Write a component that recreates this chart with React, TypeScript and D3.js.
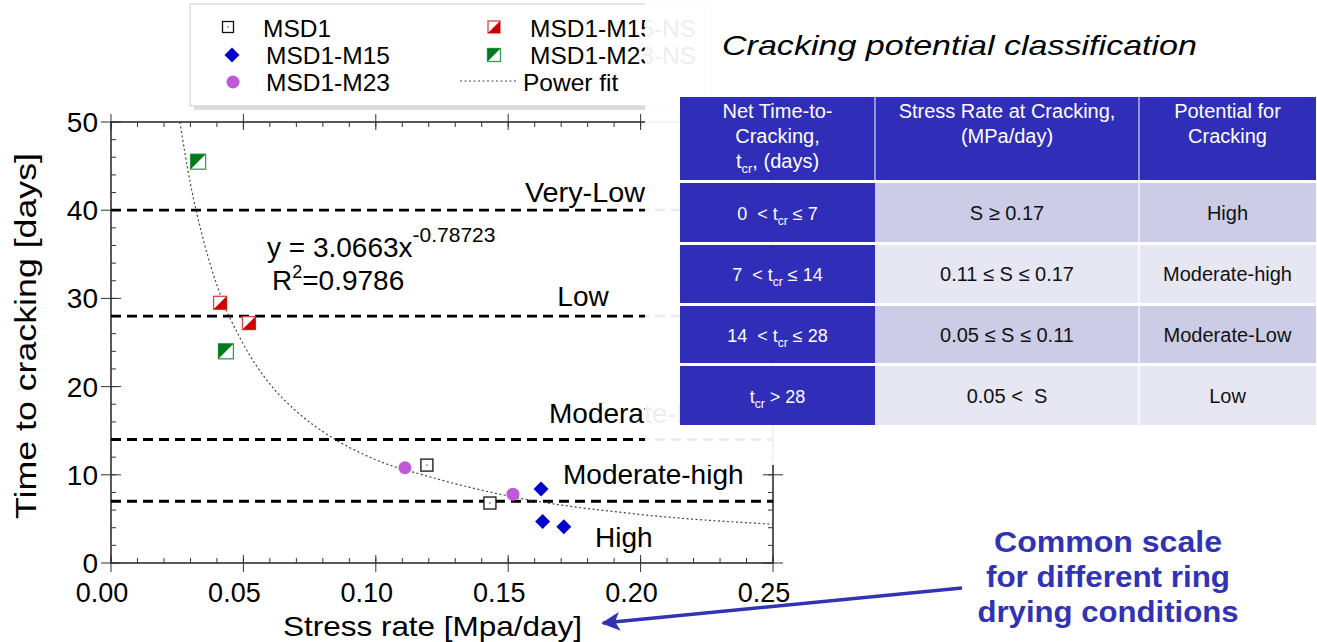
import React, { useEffect, useRef } from 'react';
import * as d3 from 'd3';

// Data: [stress rate, days]
const msd1 = [[0.1193, 11.1], [0.1431, 6.8]];
const msd1M15 = [[0.1624, 8.4], [0.1630, 4.7], [0.1710, 4.1]];
const msd1M23 = [[0.1110, 10.8], [0.1518, 7.8]];
const msd1M15NS = [[0.0412, 29.5], [0.0521, 27.2]];
const msd1M23NS = [[0.0329, 45.5], [0.0434, 24.0]];

// Power fit curve
const fitX = [0.026, 0.03, 0.035, 0.04, 0.05, 0.06, 0.07, 0.08, 0.10, 0.12, 0.15, 0.20, 0.25];
const fitY = [50, 43, 36.5, 31.5, 24.8, 20.3, 17.2, 14.9, 11.7, 9.8, 7.6, 5.5, 4.4];

const limits = [40, 28, 14, 7];
const xDomain = [0, 0.25];
const yDomain = [0, 50];

const headerCells = [
  ['Net Time-to-', 'Cracking,', 't{cr}, (days)'],
  ['Stress Rate at Cracking,', '(MPa/day)'],
  ['Potential for', 'Cracking'],
];
const timeRanges = ['0  < t{cr} ≤ 7', '7  < t{cr} ≤ 14', '14  < t{cr} ≤ 28', 't{cr} > 28'];
const stressRanges = ['S ≥ 0.17', '0.11 ≤ S ≤ 0.17', '0.05 ≤ S ≤ 0.11', '0.05 <  S'];
const potentials = ['High', 'Moderate-high', 'Moderate-Low', 'Low'];

const noteLines = ['Common scale', 'for different ring', 'drying conditions'];

const BLUE = '#302eb8';

// text with "cr" subscripts marked as {cr}
function addSubText(sel: any, str: string, subSize: number) {
  const parts = str.split('{cr}');
  parts.forEach((p, i) => {
    const t = sel.append('tspan').text(p);
    if (i > 0) t.attr('dy', -5);
    if (i < parts.length - 1) {
      sel.append('tspan').attr('font-size', subSize).attr('dy', 5).text('cr');
    }
  });
}

function App() {
  const ref = useRef<SVGSVGElement>(null);

  useEffect(() => {
    const svg = d3.select(ref.current);
    svg.selectAll('*').remove();

    const x = d3.scaleLinear().domain(xDomain).range([111, 773]);
    const y = d3.scaleLinear().domain(yDomain).range([563, 122]);
    const [x0, x1] = x.range();
    const [y0, y1] = y.range();

    const g = svg.append('g');

    // clip for the fit line
    svg.append('defs').append('clipPath').attr('id', 'plotClip')
      .append('rect').attr('x', x0).attr('y', y1).attr('width', x1 - x0).attr('height', y0 - y1);

    // Frame
    g.append('rect')
      .attr('x', x0).attr('y', y1)
      .attr('width', x1 - x0).attr('height', y0 - y1)
      .attr('fill', 'none').attr('stroke', '#000').attr('stroke-width', 1.3);

    // Ticks
    const xMinor = d3.range(0, 26).map(i => i / 100);
    const xMajor = x.ticks(5);
    const yMinor = d3.range(0, 51, 2);
    const yMajor = y.ticks(5);
    const tk = g.append('g').attr('stroke', '#333').attr('stroke-width', 1);
    xMinor.forEach(v => {
      tk.append('line').attr('x1', x(v)).attr('x2', x(v)).attr('y1', y0).attr('y2', y0 - 5);
      tk.append('line').attr('x1', x(v)).attr('x2', x(v)).attr('y1', y1).attr('y2', y1 + 5);
    });
    xMajor.forEach(v => {
      tk.append('line').attr('x1', x(v)).attr('x2', x(v)).attr('y1', y0 - 8).attr('y2', y0 + 9);
      tk.append('line').attr('x1', x(v)).attr('x2', x(v)).attr('y1', y1 - 8).attr('y2', y1 + 8);
    });
    yMinor.forEach(v => {
      tk.append('line').attr('x1', x0).attr('x2', x0 + 5).attr('y1', y(v)).attr('y2', y(v));
      tk.append('line').attr('x1', x1).attr('x2', x1 - 5).attr('y1', y(v)).attr('y2', y(v));
    });
    yMajor.forEach(v => {
      tk.append('line').attr('x1', x0 - 10).attr('x2', x0 + 10).attr('y1', y(v)).attr('y2', y(v));
      tk.append('line').attr('x1', x1 - 10).attr('x2', x1 + 10).attr('y1', y(v)).attr('y2', y(v));
    });

    // Tick labels
    g.append('g').selectAll('text').data(xMajor).enter().append('text')
      .attr('x', d => x(d) - 9).attr('y', 602)
      .attr('text-anchor', 'middle').attr('font-size', 27)
      .text(d => d3.format('.2f')(d));
    g.append('g').selectAll('text').data(yMajor).enter().append('text')
      .attr('x', 98).attr('y', d => y(d) + 10)
      .attr('text-anchor', 'end').attr('font-size', 28)
      .text(d => d);

    // Axis titles
    g.append('text').attr('x', 283).attr('y', 636)
      .attr('font-size', 28).attr('textLength', 299).attr('lengthAdjust', 'spacingAndGlyphs')
      .text('Stress rate [Mpa/day]');
    g.append('text').attr('transform', 'translate(36,336) rotate(-90)')
      .attr('text-anchor', 'middle').attr('font-size', 30)
      .attr('textLength', 366).attr('lengthAdjust', 'spacingAndGlyphs')
      .text('Time to cracking [days]');

    // Classification limits
    g.append('g').selectAll('line').data(limits).enter().append('line')
      .attr('x1', x0).attr('x2', x1)
      .attr('y1', d => y(d)).attr('y2', d => y(d))
      .attr('stroke', '#000').attr('stroke-width', 2.8).attr('stroke-dasharray', '10,6');

    const zone = (t: string, px: number, py: number, anchor: string, len?: number) => {
      const el = g.append('text').attr('x', px).attr('y', py).attr('font-size', 28)
        .attr('text-anchor', anchor).text(t);
      if (len) el.attr('textLength', len).attr('lengthAdjust', 'spacingAndGlyphs');
    };
    zone('Very-Low', 585, y(40) - 8, 'middle', 120);
    zone('Low', 583, y(28) - 10, 'middle');
    zone('Moderate-Low', 549, y(14) - 17, 'start');
    zone('Moderate-high', 563, y(7) - 17, 'start');
    zone('High', 595, y(7) + 46, 'start');

    // Fit equation
    const eq = g.append('text').attr('x', 267).attr('y', 257).attr('font-size', 28);
    eq.append('tspan').text('y = 3.0663x');
    eq.append('tspan').attr('dy', -15).attr('font-size', 21).text('-0.78723');
    const r2 = g.append('text').attr('x', 272).attr('y', 290).attr('font-size', 28);
    r2.append('tspan').text('R');
    r2.append('tspan').attr('dy', -12).attr('font-size', 18).text('2');
    r2.append('tspan').attr('dy', 12).text('=0.9786');

    // Power fit line
    const fitPts = fitX.map((v, i) => [v, fitY[i]]);
    const line = d3.line<number[]>().x(d => x(d[0])).y(d => y(d[1])).curve(d3.curveMonotoneX);
    g.append('path').datum(fitPts).attr('d', line)
      .attr('clip-path', 'url(#plotClip)')
      .attr('fill', 'none').attr('stroke', '#444').attr('stroke-width', 1.2)
      .attr('stroke-dasharray', '2,2.5');

    // Marker helpers
    const square = (p: any, cx: number, cy: number, s: number) => {
      p.append('rect').attr('x', cx - s / 2).attr('y', cy - s / 2).attr('width', s).attr('height', s)
        .attr('fill', '#fff').attr('stroke', '#111').attr('stroke-width', 1.3);
      p.append('rect').attr('x', cx - 0.6).attr('y', cy - 0.6).attr('width', 1.2).attr('height', 1.2).attr('fill', '#333');
    };
    const diamond = (p: any, cx: number, cy: number, r: number) => {
      p.append('path').attr('d', `M${cx},${cy - r}L${cx + r},${cy}L${cx},${cy + r}L${cx - r},${cy}Z`)
        .attr('fill', '#0000cc');
    };
    const dot = (p: any, cx: number, cy: number, r: number) => {
      p.append('circle').attr('cx', cx).attr('cy', cy).attr('r', r).attr('fill', '#c058d8');
    };
    const half = (p: any, cx: number, cy: number, s: number, fill: string, edge: string, lowerRight: boolean) => {
      const h = s / 2;
      p.append('rect').attr('x', cx - h).attr('y', cy - h).attr('width', s).attr('height', s)
        .attr('fill', '#fff').attr('stroke', edge).attr('stroke-width', 1.3);
      const tri = lowerRight
        ? `M${cx + h},${cy - h}L${cx + h},${cy + h}L${cx - h},${cy + h}Z`
        : `M${cx - h},${cy - h}L${cx + h},${cy - h}L${cx - h},${cy + h}Z`;
      p.append('path').attr('d', tri).attr('fill', fill);
    };

    const mk = g.append('g');
    msd1M23NS.forEach(d => half(mk, x(d[0]), y(d[1]), 15, '#007a1e', '#3c9c4c', false));
    msd1M15NS.forEach(d => half(mk, x(d[0]), y(d[1]), 13, '#cc0000', '#dd4444', true));
    msd1.forEach(d => square(mk, x(d[0]), y(d[1]), 12));
    msd1M23.forEach(d => dot(mk, x(d[0]), y(d[1]), 6.5));
    msd1M15.forEach(d => diamond(mk, x(d[0]), y(d[1]), 7.5));

    // Legend
    const lg = svg.append('g');
    lg.append('rect').attr('x', 194).attr('y', 8).attr('width', 520).attr('height', 102).attr('fill', '#ddd');
    lg.append('rect').attr('x', 190).attr('y', 4).attr('width', 520).attr('height', 102)
      .attr('fill', '#fff').attr('stroke', '#ccc').attr('stroke-width', 1);
    square(lg, 228, 27, 11);
    diamond(lg, 232, 55, 7.5);
    dot(lg, 233, 82, 6.5);
    half(lg, 494, 27, 12, '#cc0000', '#dd4444', true);
    half(lg, 494, 55, 13, '#007a1e', '#3c9c4c', false);
    lg.append('line').attr('x1', 460).attr('x2', 517).attr('y1', 81).attr('y2', 81)
      .attr('stroke', '#444').attr('stroke-width', 1.2).attr('stroke-dasharray', '2,2.5');
    const legendText = [
      ['MSD1', 263, 37], ['MSD1-M15', 266, 64], ['MSD1-M23', 266, 91],
      ['MSD1-M15-NS', 530, 37], ['MSD1-M23-NS', 530, 64], ['Power fit', 523, 91],
    ];
    legendText.forEach(([t, px, py]) => {
      lg.append('text').attr('x', px).attr('y', py).attr('font-size', 24.5).text(t as string);
    });

    // Fade over the right side
    svg.append('rect').attr('x', 645).attr('y', 0).attr('width', 680).attr('height', 465)
      .attr('fill', '#fff').attr('opacity', 0.93);

    // Title
    svg.append('text').attr('x', 722).attr('y', 55)
      .attr('font-size', 28).attr('font-style', 'italic')
      .attr('textLength', 475).attr('lengthAdjust', 'spacingAndGlyphs')
      .text('Cracking potential classification');

    // Table
    const cols = [680, 875, 1139, 1316];
    const rowTop = [183, 245, 306, 366];
    const rowBot = [242, 303, 363, 425];
    const tb = svg.append('g');
    tb.append('rect').attr('x', cols[0]).attr('y', 97).attr('width', cols[3] - cols[0]).attr('height', 83).attr('fill', BLUE);
    [1, 2].forEach(c => tb.append('line').attr('x1', cols[c]).attr('x2', cols[c]).attr('y1', 97).attr('y2', 180)
      .attr('stroke', '#d8d8f0').attr('stroke-width', 1.2));
    headerCells.forEach((lines, c) => {
      const cx = (cols[c] + cols[c + 1]) / 2;
      lines.forEach((ln, i) => {
        const t = tb.append('text').attr('x', cx).attr('y', 118 + i * 25)
          .attr('text-anchor', 'middle').attr('font-size', 20).attr('fill', '#fff');
        addSubText(t, ln, 13);
      });
    });
    rowTop.forEach((top, r) => {
      const h = rowBot[r] - top;
      const light = r % 2 === 0 ? '#cdcce6' : '#e7e7f3';
      tb.append('rect').attr('x', cols[0]).attr('y', top).attr('width', cols[1] - cols[0]).attr('height', h).attr('fill', BLUE);
      tb.append('rect').attr('x', cols[1]).attr('y', top).attr('width', cols[3] - cols[1]).attr('height', h).attr('fill', light);
      tb.append('line').attr('x1', cols[2]).attr('x2', cols[2]).attr('y1', top).attr('y2', rowBot[r])
        .attr('stroke', '#fff').attr('stroke-width', 1.2);
      const my = top + h / 2 + 7;
      const t1 = tb.append('text').attr('x', (cols[0] + cols[1]) / 2).attr('y', my)
        .attr('text-anchor', 'middle').attr('font-size', 18).attr('fill', '#fff')
        .style('white-space', 'pre');
      addSubText(t1, timeRanges[r], 12);
      tb.append('text').attr('x', (cols[1] + cols[2]) / 2).attr('y', my)
        .attr('text-anchor', 'middle').attr('font-size', 20).attr('fill', '#111')
        .style('white-space', 'pre').text(stressRanges[r]);
      tb.append('text').attr('x', (cols[2] + cols[3]) / 2).attr('y', my)
        .attr('text-anchor', 'middle').attr('font-size', 20).attr('fill', '#111')
        .text(potentials[r]);
    });

    // Note and arrow
    const lens = [228, 244, 261];
    noteLines.forEach((t, i) => {
      svg.append('text').attr('x', 1108).attr('y', 552 + i * 35)
        .attr('text-anchor', 'middle').attr('font-size', 29).attr('font-weight', 'bold')
        .attr('fill', '#3232b4')
        .attr('textLength', lens[i]).attr('lengthAdjust', 'spacingAndGlyphs')
        .text(t);
    });
    svg.append('defs').append('marker').attr('id', 'arrowHead')
      .attr('viewBox', '0 0 10 10').attr('refX', 9).attr('refY', 5)
      .attr('markerWidth', 7).attr('markerHeight', 5.5).attr('orient', 'auto')
      .attr('markerUnits', 'strokeWidth')
      .append('path').attr('d', 'M0,0L10,5L0,10L2.5,5Z').attr('fill', '#3232b4');
    svg.append('line').attr('x1', 962).attr('y1', 588).attr('x2', 603).attr('y2', 623)
      .attr('stroke', '#3232b4').attr('stroke-width', 3.4).attr('marker-end', 'url(#arrowHead)');
  }, []);

  return (
    <svg
      ref={ref}
      width={1317}
      height={642}
      style={{ position: 'absolute', left: 0, top: 0, background: '#fff' }}
      fontFamily="'Liberation Sans', Arial, sans-serif"
    />
  );
}

export default App;
